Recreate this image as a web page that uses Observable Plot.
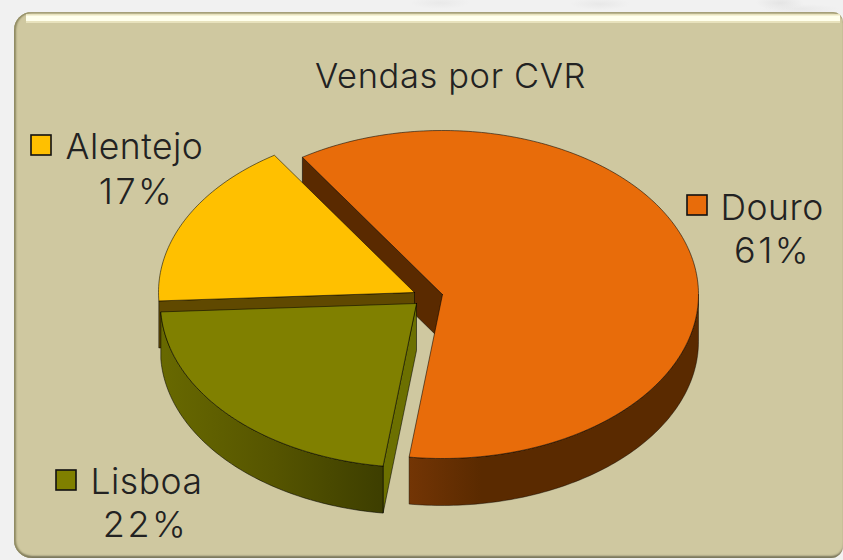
<!DOCTYPE html>
<html>
<head>
<meta charset="utf-8">
<script src="https://cdn.jsdelivr.net/npm/d3@7"></script>
<script src="https://cdn.jsdelivr.net/npm/@observablehq/plot@0.6"></script>
<style>
  html, body { margin: 0; padding: 0; width: 843px; height: 560px; overflow: hidden;
    background-color: #f1f1f1;
    background-image:
      radial-gradient(ellipse 24px 7px at 780px 3px, #e4e4e4, transparent),
      radial-gradient(ellipse 30px 6px at 600px 4px, #e8e8e8, transparent),
      radial-gradient(ellipse 30px 6px at 440px 3px, #e9e9e9, transparent),
      radial-gradient(ellipse 40px 5px at 800px 9px, #e9e9e9, transparent);
  }
  #card {
    position: absolute; left: 14px; top: 12px; width: 829px; height: 546px;
    border-radius: 18px 10px 12px 18px; background: #cfc8a0; overflow: hidden;
    box-shadow: inset 2.5px 0 2px -0.5px #8f8a62, inset 0 -3px 2px -1px #77735a, inset 0 1.5px 1px #a8a27c;
  }
  #chart { position: absolute; left: 0; top: 0; }
  svg { background: transparent !important; }
  .t-title { letter-spacing: 0.6px; }
  .t-name { letter-spacing: 0.5px; }
  .t-pct { letter-spacing: 2.5px; }
</style>
</head>
<body>
<div id="card"></div>
<div id="chart"></div>
<script>
// Data
const title = "Vendas por CVR";
const categories = ["Lisboa", "Alentejo", "Douro"];
const shares = [22.1, 16.6, 61.3];           // percent; printed rounded
const colors = ["#808000", "#ffc000", "#e86c0a"];

// Layout of the tilted pie
const firstCutDeg = 187.5, radiusX = 256, radiusY = 164, depth = 47;
const centers = { Lisboa: [416, 303], Alentejo: [414, 292], Douro: [442, 294] };
const labelPlaces = {
  Lisboa:   { box: [56, 470],  name: [90, 493],  pct: [145, 536] },
  Alentejo: { box: [31, 135],  name: [65, 158],  pct: [136, 203] },
  Douro:    { box: [687, 195], name: [720, 219], pct: [772, 262] }
};
const shineBands = [
  { x1: 26, x2: 840, y1: 14, y2: 23, fill: "#e8e2bd" },
  { x1: 26, x2: 840, y1: 15.5, y2: 21, fill: "#ffffec" }
];
const outline = { stroke: "#000", strokeOpacity: 0.6, strokeWidth: 0.9 };
const textStyle = { fontFamily: "Inter", fontWeight: 300, fill: "#222222" };

// Slice angles from the shares (clockwise from the top)
const total = d3.sum(shares);
let running = firstCutDeg;
const slices = categories.map((name, i) => {
  const a0 = running, a1 = running + shares[i] / total * 360;
  running = a1;
  return { name, share: shares[i], color: colors[i], a0, a1, c: centers[name] };
});
const rim = (s, deg, drop = 0) => {
  const t = deg * Math.PI / 180;
  return { x: s.c[0] + radiusX * Math.sin(t), y: s.c[1] - radiusY * Math.cos(t) + drop };
};
const apex = (s, drop = 0) => ({ x: s.c[0], y: s.c[1] + drop });
const arc = (s, from, to, drop = 0) => {
  const n = Math.max(2, Math.ceil(Math.abs(to - from)));
  return d3.range(n + 1).map(k => rim(s, from + (to - from) * k / n, drop));
};
const topFace = s => [apex(s), ...arc(s, s.a0, s.a1), apex(s)];
const outerWall = (s, from, to) => {
  const a = arc(s, from, to), b = arc(s, from, to, depth).reverse();
  return [...a, ...b, a[0]];
};
const cutFace = (s, deg) => {
  const p = rim(s, deg), q = rim(s, deg, depth);
  return [apex(s), p, q, apex(s, depth), apex(s)];
};
const poly = (pts, fill, extra = {}) => Plot.line(pts, { x: "x", y: "y", fill, ...outline, ...extra });

const [lisboa, alentejo, douro] = slices;

const defs = () => {
  const d = d3.create("svg:defs");
  const grad = (id, stops) => {
    const g = d.append("linearGradient").attr("id", id).attr("x1", 0).attr("y1", 0).attr("x2", 1).attr("y2", 0);
    stops.forEach(([o, c]) => g.append("stop").attr("offset", o).attr("stop-color", c));
  };
  grad("wallDouro", [[0, "#733505"], [0.25, "#5a2a00"], [1, "#5a2a00"]]);
  grad("wallLisboa", [[0, "#686900"], [0.5, "#565500"], [1, "#3d3e00"]]);
  return d.node();
};

const legend = slices.map(s => ({ ...s, pl: labelPlaces[s.name], pct: Math.round(s.share) + "%" }));

const plot = Plot.plot({
  width: 843, height: 560,
  margin: 0,
  x: { domain: [0, 843], range: [0, 843], axis: null },
  y: { domain: [0, 560], range: [0, 560], axis: null },
  marks: [
    defs,
    shineBands.map(b => Plot.rect([b], { x1: "x1", x2: "x2", y1: "y1", y2: "y2", fill: b.fill, inset: 0 })),
    // Douro: first cut face, outer wall, top
    poly(cutFace(douro, alentejo.a1), "#5a2a00"),
    poly(outerWall(douro, 90, douro.a1 - 360), "url(#wallDouro)", { strokeOpacity: 0.45 }),
    poly(topFace(douro), douro.color),
    // Alentejo
    poly(cutFace(alentejo, alentejo.a0), "#604900"),
    poly(topFace(alentejo), alentejo.color),
    // Lisboa
    poly(cutFace(lisboa, lisboa.a0), "#6c7000"),
    poly(outerWall(lisboa, lisboa.a0, lisboa.a1), "url(#wallLisboa)"),
    poly(topFace(lisboa), lisboa.color),
    // Title and labels
    Plot.text([title], { x: () => 450, y: () => 87, text: d => d, fontSize: 34.5, textAnchor: "middle", lineAnchor: "bottom", className: "t-title", ...textStyle }),
    Plot.rect(legend, { x1: d => d.pl.box[0], x2: d => d.pl.box[0] + 20, y1: d => d.pl.box[1], y2: d => d.pl.box[1] + 20, fill: d => d.color, stroke: "#111", strokeWidth: 1.6 }),
    Plot.text(legend, { x: d => d.pl.name[0], y: d => d.pl.name[1], text: "name", fontSize: 35.5, textAnchor: "start", lineAnchor: "bottom", className: "t-name", ...textStyle }),
    Plot.text(legend, { x: d => d.pl.pct[0], y: d => d.pl.pct[1], text: "pct", fontSize: 36, textAnchor: "middle", lineAnchor: "bottom", className: "t-pct", ...textStyle })
  ]
});
document.getElementById("chart").append(plot);
</script>
</body>
</html>
